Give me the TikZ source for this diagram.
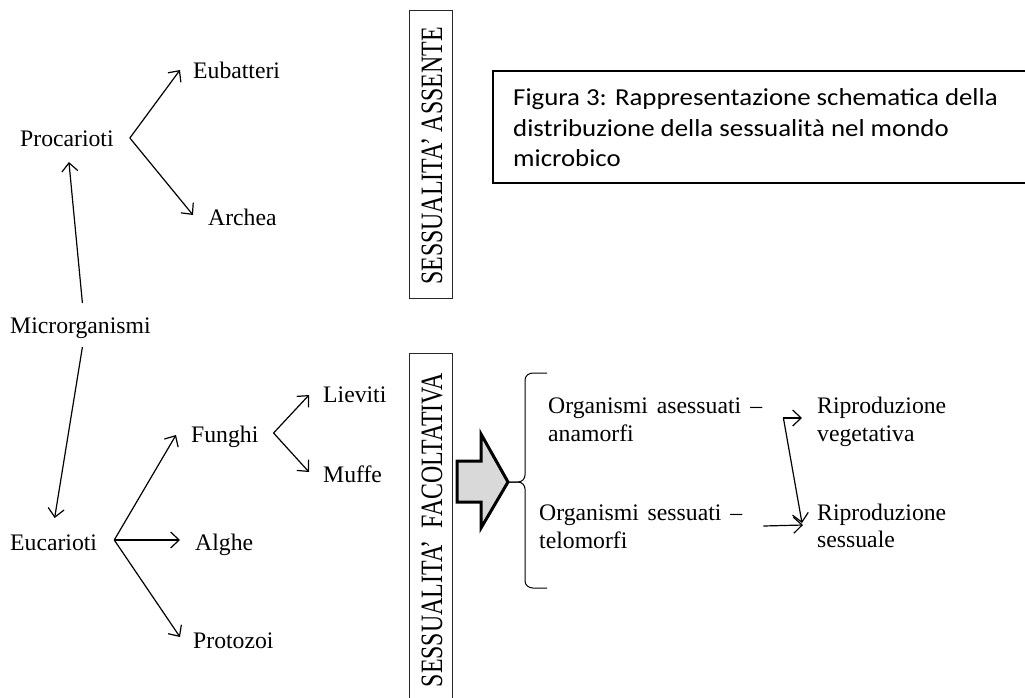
\documentclass[tikz,border=0pt]{standalone}
\usepackage{fontspec}
\setmainfont{Liberation Serif}
\newfontfamily\capfont[FakeStretch=1.1]{Carlito}
\usetikzlibrary{arrows.meta}
\begin{document}
\begin{tikzpicture}[x=1pt,y=-1pt,
  lbl/.style={anchor=base west, inner sep=0pt, font=\fontsize{23.7}{28}\selectfont},
  caplbl/.style={anchor=base west, inner sep=0pt, font=\capfont\fontsize{24.4}{28}\selectfont},
  vlbl/.style={rotate=90, inner sep=0pt, font=\fontsize{23.9}{28}\selectfont},
  conn/.style={line width=1.2pt, -{Straight Barb[length=8.5pt,width=16pt,line width=1.2pt]}},
  frame/.style={draw=black!85, line width=1pt},
  bigarrow/.style={draw=black, line width=3pt, fill=gray!30, line join=miter},
]
\clip (0,0) rectangle (1025,697);
\fill[white] (0,0) rectangle (1025,697);

% left tree
\node[lbl] (proc) at (20,146) {Procarioti};
\node[lbl] (eub) at (193,78) {Eubatteri};
\node[lbl] (arch) at (208,225) {Archea};
\node[lbl] (micro) at (10,333) {Microrganismi};
\node[lbl] (euc) at (10,550) {Eucarioti};
\node[lbl] (fun) at (191,442) {Funghi};
\node[lbl] (alg) at (195,550) {Alghe};
\node[lbl] (pro) at (193,648) {Protozoi};
\node[lbl] (lie) at (323,402) {Lieviti};
\node[lbl] (muf) at (323,482) {Muffe};

\draw[conn] ([shift={(2,-30)}]micro.base) -- ([shift={(2,16)}]proc.base);
\draw[conn] ([shift={(2,14)}]micro.base) -- ([shift={(1,-32)}]euc.base);
\draw[conn] ([shift={(16,-8)}]proc.base east) -- ([shift={(-13,-8)}]eub.base west);
\draw[conn] ([shift={(16,-8)}]proc.base east) -- ([shift={(-15,-10)}]arch.base west);
\draw[conn] ([shift={(17,-10)}]euc.base east) -- ([shift={(-15,-7)}]fun.base west);
\draw[conn] ([shift={(17,-10)}]euc.base east) -- ([shift={(-15,-10)}]alg.base west);
\draw[conn] ([shift={(17,-10)}]euc.base east) -- ([shift={(-13,-11)}]pro.base west);
\draw[conn] ([shift={(15,-9)}]fun.base east) -- ([shift={(-14,-7)}]lie.base west);
\draw[conn] ([shift={(15,-9)}]fun.base east) -- ([shift={(-14,-10)}]muf.base west);

% vertical boxes
\draw[frame] (409,10) rectangle (452,298);
\node[vlbl] (sa) at (432,156) {\scalebox{1}[1.3]{SESSUALITA’ ASSENTE}};
\draw[frame] (409,353) rectangle (452,710);
\node[vlbl] (sf) at (432,530) {\scalebox{1}[1.3]{SESSUALITA’\hspace{0.5em}FACOLTATIVA}};

% caption
\draw[draw=black, line width=1.5pt] (493,71) rectangle (1035,183);
\node[caplbl] (cap1) at (513,105) {Figura 3: Rappresentazione schematica della};
\node[caplbl] (cap2) at (513,136) {distribuzione della sessualità nel mondo};
\node[caplbl] (cap3) at (513,166) {microbico};

% big arrow and brace
\draw[bigarrow] (457,461) -- (481,461) -- (481,434) -- (508,482) -- (481,528) -- (481,502) -- (457,502) -- cycle;
\coordinate (btip) at (508,482);
\draw[line width=1pt] (btip) -- (518,482) to[out=0,in=90] (525,489) -- (525,581) to[out=-90,in=180] (533,588) -- (547,588);
\draw[line width=1pt] (btip) -- (518,482) to[out=0,in=-90] (525,475) -- (525,380) to[out=90,in=180] (533,373) -- (547,373);

% right side
\node[lbl] (oa1) at (548,413) {\makebox[214pt][s]{Organismi asessuati –}};
\node[lbl] (oa2) at (548,441) {anamorfi};
\node[lbl] (os1) at (539,520) {\makebox[203pt][s]{Organismi sessuati –}};
\node[lbl] (os2) at (539,548) {telomorfi};
\node[lbl] (rv1) at (817,413) {Riproduzione};
\node[lbl] (rv2) at (817,441) {vegetativa};
\node[lbl] (rs1) at (817,520) {Riproduzione};
\node[lbl] (rs2) at (817,547) {sessuale};

\draw[conn] ([shift={(21,5)}]oa1.base east) -- ([shift={(-15,5)}]rv1.base west);
\draw[conn] ([shift={(21,5)}]oa1.base east) -- ([shift={(-15,3)}]rs1.base west);
\draw[conn] ([shift={(21,6)}]os1.base east) -- ([shift={(-14,5)}]rs1.base west);
\end{tikzpicture}
\end{document}
